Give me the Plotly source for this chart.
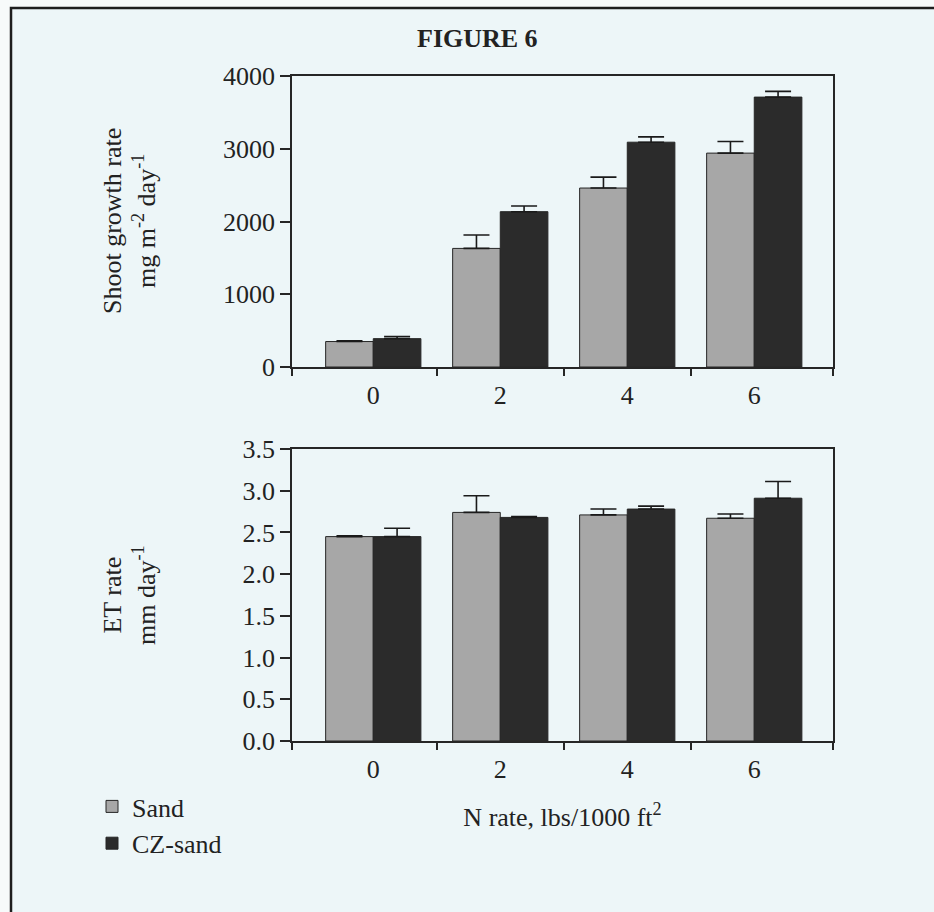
import plotly.graph_objects as go
from plotly.subplots import make_subplots

# ---- data ----
n_rate_labels = ["0", "2", "4", "6"]
n_rate_pos = [0, 1, 2, 3]

shoot_sand = [350, 1630, 2460, 2940]
shoot_sand_err = [10, 185, 150, 160]
shoot_cz = [390, 2135, 3090, 3710]
shoot_cz_err = [30, 78, 73, 78]

et_sand = [2.45, 2.74, 2.71, 2.67]
et_sand_err = [0.01, 0.20, 0.07, 0.05]
et_cz = [2.45, 2.68, 2.78, 2.91]
et_cz_err = [0.10, 0.01, 0.035, 0.20]

series_names = ["Sand", "CZ-sand"]
W, H = 934, 912
FONT = "Liberation Serif, Times New Roman, serif"
INK = "#262626"
SAND_COLOR = "#a7a7a7"
CZ_COLOR = "#2b2b2b"
PAPER_IN = "#edf6f8"
PLOT_BG = "#f3f9fa"
FS = 26


def px(x):
    return x / W


def py(y):
    return 1 - y / H


fig = make_subplots(rows=2, cols=1)

panels = [
    (1, shoot_sand, shoot_sand_err, shoot_cz, shoot_cz_err, True),
    (2, et_sand, et_sand_err, et_cz, et_cz_err, False),
]
for row, s, se, c, ce, show in panels:
    for name, vals, errs, col in [(series_names[0], s, se, SAND_COLOR),
                                  (series_names[1], c, ce, CZ_COLOR)]:
        fig.add_trace(go.Bar(
            x=n_rate_pos, y=vals, name=name, legendgroup=name, showlegend=show,
            marker=dict(color=col, line=dict(color=INK, width=1)),
            error_y=dict(type="data", symmetric=False, array=errs,
                         arrayminus=[0] * len(errs), color="#1a1a1a",
                         thickness=1.6, width=13),
        ), row=row, col=1)

x_dom = [px(292), px(833)]
axis_common = dict(showline=True, linecolor=INK, linewidth=1.5, mirror=True,
                   showgrid=False, zeroline=False, automargin=False,
                   tickfont=dict(family=FONT, size=FS, color="#222"))

for row, (top, bot) in [(1, (76, 367)), (2, (449, 741))]:
    fig.update_xaxes(domain=x_dom, range=[-0.64, 3.62],
                     tickvals=n_rate_pos, ticktext=n_rate_labels,
                     ticks="", ticklabelstandoff=4,
                     minor=dict(tickmode="array", tickvals=[-0.64, 0.5, 1.5, 2.5, 3.62],
                                ticks="outside", ticklen=7, tickwidth=1.5,
                                tickcolor=INK, showgrid=False),
                     row=row, col=1, **axis_common)
    fig.update_yaxes(domain=[py(bot), py(top)], ticks="outside", ticklen=10,
                     tickwidth=1.5, tickcolor=INK, row=row, col=1, **axis_common)

fig.update_yaxes(range=[0, 4000], tickvals=[0, 1000, 2000, 3000, 4000], row=1, col=1)
fig.update_yaxes(range=[0, 3.5], tickvals=[0, 0.5, 1, 1.5, 2, 2.5, 3, 3.5],
                 tickformat=".1f", row=2, col=1)
fig.update_xaxes(title=dict(text="N rate, lbs/1000 ft<sup>2</sup>",
                            font=dict(family=FONT, size=FS, color="#222"),
                            standoff=25), row=2, col=1)

annotations = [
    dict(text="<b>FIGURE 6</b>", x=px(477), y=py(39), font=dict(size=FS)),
    dict(text="Shoot growth rate<br>mg m<sup>-2</sup> day<sup>-1</sup>",
         x=px(129), y=py(221), textangle=-90, font=dict(size=FS)),
    dict(text="ET rate<br>mm day<sup>-1</sup>",
         x=px(129), y=py(595), textangle=-90, font=dict(size=FS)),
]
for a in annotations:
    a.update(xref="paper", yref="paper", showarrow=False,
             xanchor="center", yanchor="middle")
    a["font"].update(family=FONT, color="#222")

fig.update_layout(
    width=W, height=H,
    margin=dict(l=0, r=0, t=0, b=0, autoexpand=False),
    paper_bgcolor="#f7fafa",
    plot_bgcolor=PLOT_BG,
    barmode="group", bargap=0.25, bargroupgap=0,
    font=dict(family=FONT, size=FS, color="#222"),
    annotations=annotations,
    shapes=[dict(type="rect", xref="paper", yref="paper", layer="below",
                 x0=px(11), y0=py(930), x1=px(950), y1=py(8),
                 fillcolor=PAPER_IN, line=dict(color="#1e1e1e", width=2.5))],
    legend=dict(x=px(92), y=py(783), xanchor="left", yanchor="top",
                bgcolor="rgba(0,0,0,0)", font=dict(family=FONT, size=FS, color="#222"),
                traceorder="normal", itemwidth=30),
)

fig.write_html("out.html", config={"displayModeBar": False},
               post_script="document.body.style.margin='0';document.body.style.overflow='hidden';")
